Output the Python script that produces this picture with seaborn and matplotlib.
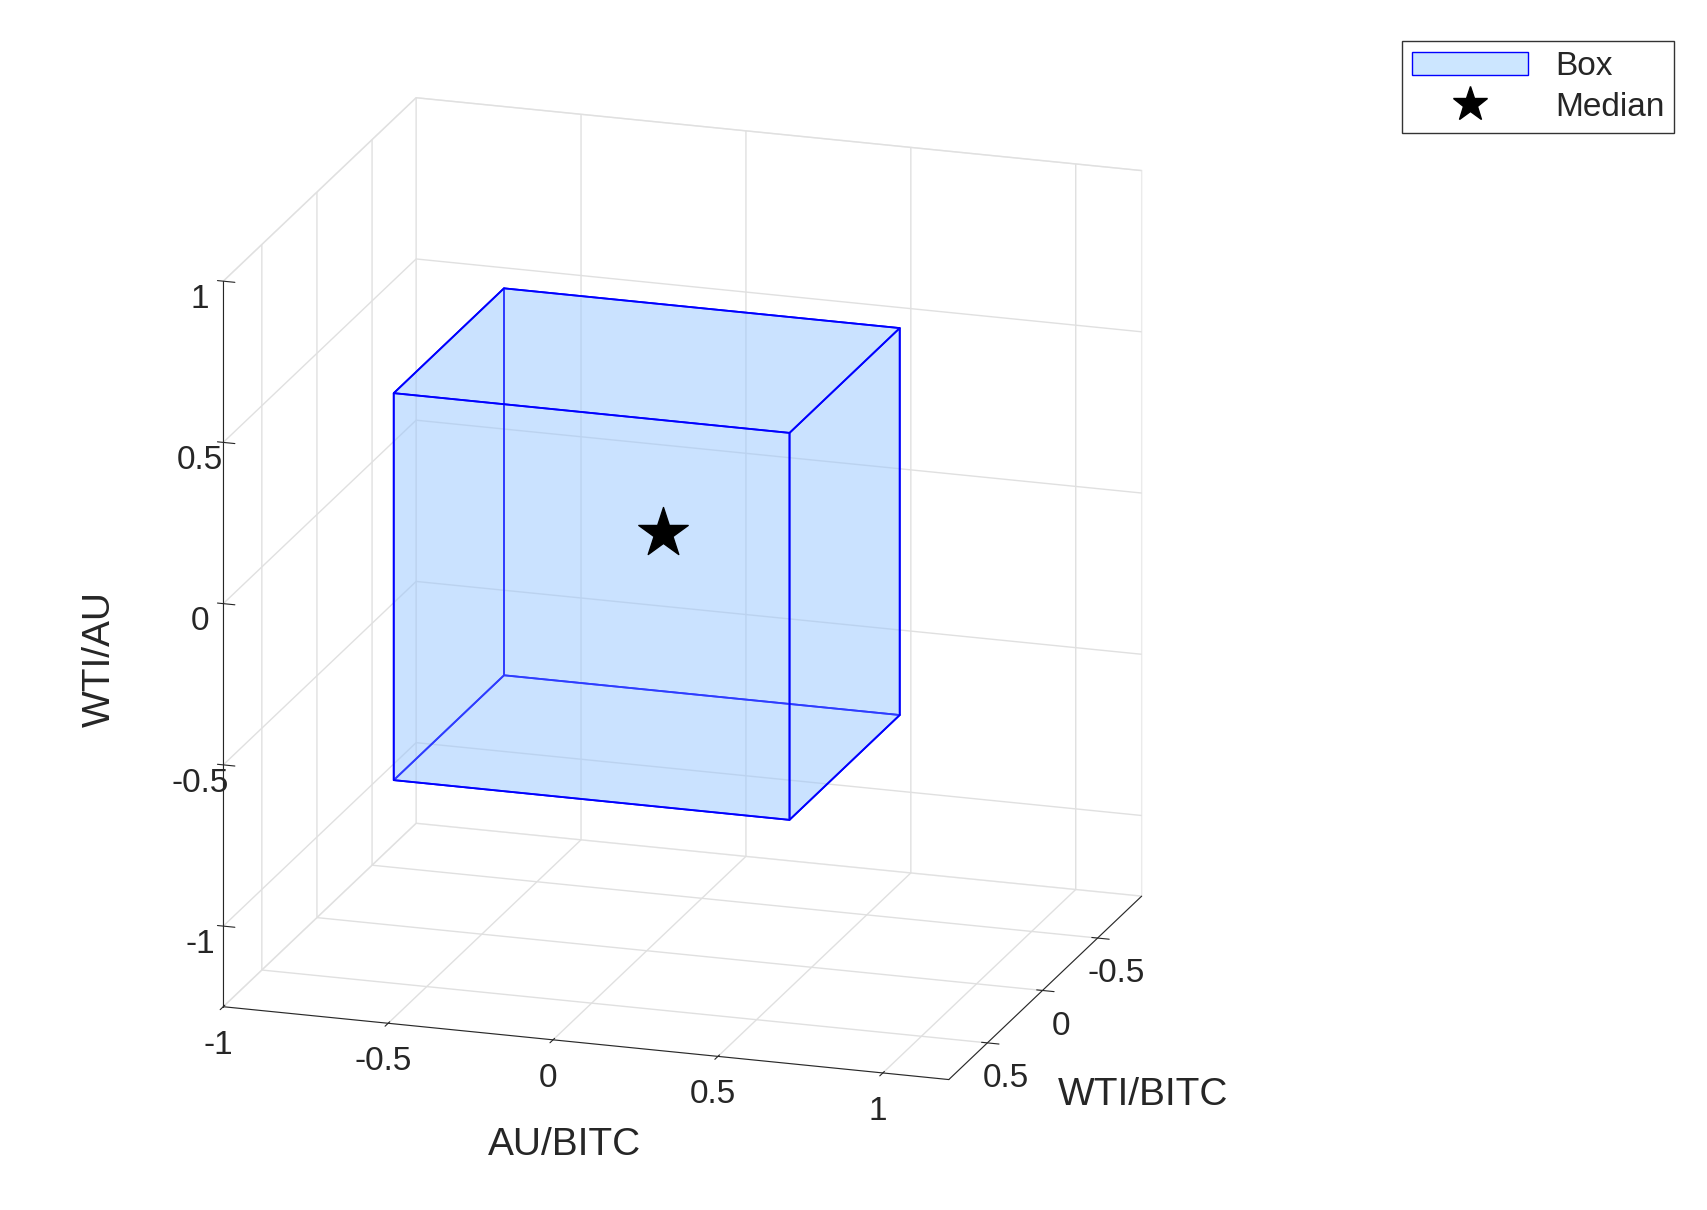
import numpy as np
import matplotlib
matplotlib.use("Agg")
import matplotlib.pyplot as plt
import seaborn as sns
from mpl_toolkits.mplot3d.art3d import Poly3DCollection
from matplotlib.patches import Patch
from matplotlib.lines import Line2D

sns.set_style("white")
plt.rcParams['font.family'] = ['Liberation Sans', 'DejaVu Sans']

# box limits (AU/BITC, WTI/BITC, WTI/AU)
box_x = [-0.6, 0.6]
box_y = [-0.5, 0.5]
box_z = [-0.62, 0.58]
median = [0.05, 0.0, 0.05]

x_ticks = [-1, -0.5, 0, 0.5, 1]
y_ticks = [-0.5, 0, 0.5]
z_ticks = [-1, -0.5, 0, 0.5, 1]

fig = plt.figure(figsize=(17.08, 12.10), dpi=100)
ax = fig.add_subplot(111, projection='3d', proj_type='ortho', computed_zorder=False)
ax.set_position([-0.04, 0.0, 0.86, 1.0])

x0, x1 = box_x
y0, y1 = box_y
z0, z1 = box_z
v = np.array([[x0, y0, z0], [x1, y0, z0], [x1, y1, z0], [x0, y1, z0],
              [x0, y0, z1], [x1, y0, z1], [x1, y1, z1], [x0, y1, z1]])
faces = [[0, 1, 2, 3], [4, 5, 6, 7], [0, 1, 5, 4],
         [2, 3, 7, 6], [1, 2, 6, 5], [0, 3, 7, 4]]
poly = Poly3DCollection([v[f] for f in faces], facecolor=(0.6, 0.78, 1.0, 0.3),
                        edgecolor='blue', linewidth=1.3, zorder=1)
ax.add_collection3d(poly)
ax.scatter([median[0]], [median[1]], [median[2]], marker='*', s=1400,
           color='black', depthshade=False, zorder=5)

ax.set_xlim(-1, 1.2)
ax.set_ylim(0.85, -0.9)
ax.set_zlim(-1.25, 1)
ax.set_xticks(x_ticks)
ax.set_yticks(y_ticks)
ax.set_zticks(z_ticks)
ax.set_xticklabels(['-1', '-0.5', '0', '0.5', '1'])
ax.set_yticklabels(['-0.5', '0', '0.5'])
ax.set_zticklabels(['-1', '-0.5', '0', '0.5', '1'])
ax.tick_params(labelsize=24)
ax.zaxis._axinfo['juggled'] = (1, 2, 0)
ax.xaxis.set_rotate_label(False)
ax.yaxis.set_rotate_label(False)
ax.zaxis.set_rotate_label(False)
ax.set_xlabel('AU/BITC', fontsize=28, labelpad=30)
ax.set_ylabel('WTI/BITC', fontsize=28, labelpad=40)
ax.set_zlabel('WTI/AU', fontsize=28, labelpad=40, rotation=90)
ax.view_init(elev=18, azim=-72)
ax.set_box_aspect((1.1, 0.9, 1.1))
for a in (ax.xaxis, ax.yaxis, ax.zaxis):
    a.pane.fill = False
    a.pane.set_edgecolor((0.85, 0.85, 0.85))
    a._axinfo['grid']['color'] = (0.88, 0.88, 0.88)
    a._axinfo['grid']['linewidth'] = 1.0

handles = [Patch(facecolor=(0.8, 0.9, 1.0), edgecolor='blue', label='Box'),
           Line2D([], [], marker='*', color='black', linestyle='None',
                  markersize=26, label='Median')]
fig.legend(handles=handles, loc='upper right', bbox_to_anchor=(0.99, 0.98),
           fontsize=24, frameon=True, fancybox=False, edgecolor='black',
           handlelength=3.5, borderpad=0.3, labelspacing=0.3)

fig.savefig('out.png', dpi=100)
